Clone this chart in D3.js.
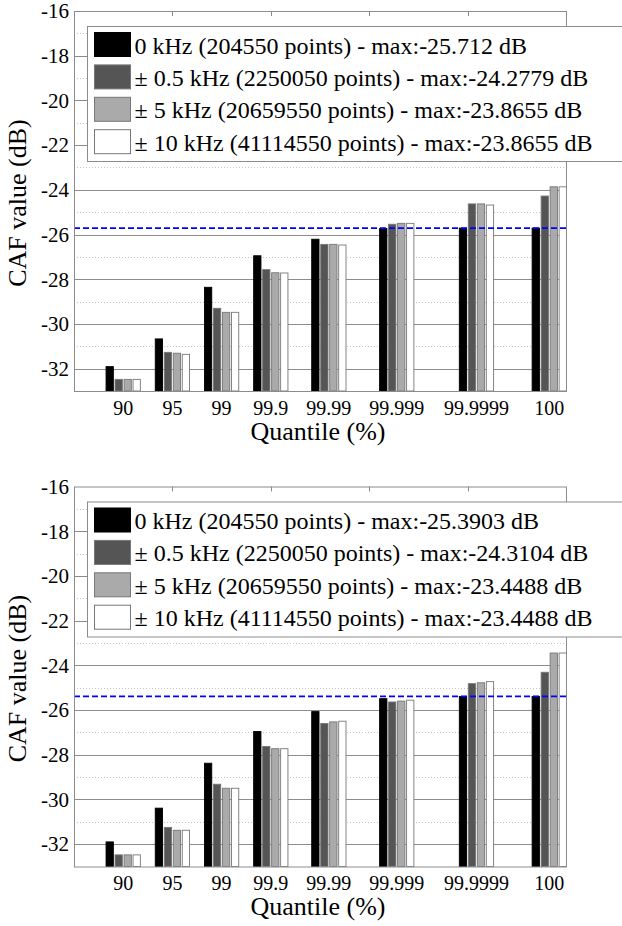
<!DOCTYPE html>
<html>
<head>
<meta charset="utf-8">
<script src="https://cdn.jsdelivr.net/npm/d3@7"></script>
<style>
  html, body { margin: 0; padding: 0; background: #fff; }
  svg { display: block; }
  text { font-family: 'Liberation Serif', 'Times New Roman', Times, 'DejaVu Serif', serif; }
</style>
</head>
<body>
<svg id="chart" width="622" height="926" font-family="Liberation Serif, Times New Roman, Times, DejaVu Serif, serif"></svg>
<script>
// ---------- data ----------
const quantileLabels = ["90", "95", "99", "99.9", "99.99", "99.999", "99.9999", "100"];
// abscissa value of each quantile group on the (linear) x axis
const quantileX = [0.5, 1.0, 1.5, 2.0, 2.59, 3.28, 4.09, 4.83];
const xTicks = [1, 2, 3, 4];
const yTicks = [-16, -18, -20, -22, -24, -26, -28, -30, -32];
const yMinor = [-17, -19, -21, -23, -25, -27, -29, -31];

const seriesNames = ["0 kHz", "± 0.5 kHz", "± 5 kHz", "± 10 kHz"];
const seriesColors = ["#000000", "#555555", "#aaaaaa", "#ffffff"];

// top panel
const top0k   = [-31.91, -30.67, -28.36, -26.95, -26.21, -25.73, -25.712, -25.712];
const top05k  = [-32.48, -31.27, -29.30, -27.57, -26.44, -25.54, -24.63, -24.2779];
const top5k   = [-32.48, -31.31, -29.48, -27.71, -26.44, -25.50, -24.63, -23.8655];
const top10k  = [-32.48, -31.36, -29.48, -27.72, -26.47, -25.50, -24.68, -23.8655];
const topMax = -25.712;
const topLegend = [
  "0 kHz (204550 points) - max:-25.712 dB",
  "± 0.5 kHz (2250050 points) - max:-24.2779 dB",
  "± 5 kHz (20659550 points) - max:-23.8655 dB",
  "± 10 kHz (41114550 points) - max:-23.8655 dB"
];

// bottom panel
const bot0k   = [-31.90, -30.39, -28.38, -26.96, -26.07, -25.49, -25.3903, -25.3903];
const bot05k  = [-32.48, -31.25, -29.32, -27.63, -26.60, -25.64, -24.82, -24.3104];
const bot5k   = [-32.48, -31.38, -29.50, -27.73, -26.53, -25.60, -24.78, -23.4488];
const bot10k  = [-32.48, -31.38, -29.50, -27.73, -26.50, -25.56, -24.73, -23.4488];
const botMax = -25.3903;
const botLegend = [
  "0 kHz (204550 points) - max:-25.3903 dB",
  "± 0.5 kHz (2250050 points) - max:-24.3104 dB",
  "± 5 kHz (20659550 points) - max:-23.4488 dB",
  "± 10 kHz (41114550 points) - max:-23.4488 dB"
];

const yDomain = [-33, -16];
const xDomain = [0, 5];

// ---------- drawing ----------
const FONT = "Liberation Serif, Times New Roman, Times, DejaVu Serif, serif";
const svg = d3.select("#chart");

function drawPanel(offY, series, maxVal, legendLabels) {
  const left = 74, right = 566, top = 11 + offY, bottom = 391 + offY;
  const g = svg.append("g").attr("font-family", FONT);
  const x = d3.scaleLinear().domain(xDomain).range([left, right]);
  const y = d3.scaleLinear().domain(yDomain).range([bottom, top]);

  // minor grid (dotted)
  g.append("g").selectAll("line").data(yMinor).join("line")
    .attr("x1", left).attr("x2", right)
    .attr("y1", d => Math.round(y(d)) + 0.5).attr("y2", d => Math.round(y(d)) + 0.5)
    .attr("stroke", "#c4c4c4").attr("stroke-width", 1)
    .attr("stroke-dasharray", "1,2");
  // major grid
  g.append("g").selectAll("line").data(yTicks.filter(d => d !== -16)).join("line")
    .attr("x1", left).attr("x2", right)
    .attr("y1", d => Math.round(y(d)) + 0.5).attr("y2", d => Math.round(y(d)) + 0.5)
    .attr("stroke", "#8c8c8c").attr("stroke-width", 1);

  // top x ticks
  g.append("g").selectAll("line").data(xTicks).join("line")
    .attr("x1", d => Math.round(x(d)) + 0.5).attr("x2", d => Math.round(x(d)) + 0.5)
    .attr("y1", top).attr("y2", top + 5)
    .attr("stroke", "#8c8c8c");

  // bars
  const barW = 7.3, step = 9;
  const groupW = 3 * step + barW;
  series.forEach((vals, si) => {
    g.append("g").selectAll("rect").data(vals).join("rect")
      .attr("x", (d, i) => x(quantileX[i]) - groupW / 2 + si * step)
      .attr("width", barW)
      .attr("y", d => y(d))
      .attr("height", d => y(yDomain[0]) - y(d))
      .attr("fill", seriesColors[si])
      .attr("stroke", si === 0 ? "#000" : "#777")
      .attr("stroke-width", 0.9);
  });

  // max line
  g.append("line")
    .attr("x1", left).attr("x2", right)
    .attr("y1", y(maxVal)).attr("y2", y(maxVal))
    .attr("stroke", "#0000ff").attr("stroke-width", 1.6)
    .attr("stroke-dasharray", "6,3");

  // box
  g.append("rect")
    .attr("x", left + 0.5).attr("y", top + 0.5)
    .attr("width", right - left).attr("height", bottom - top)
    .attr("fill", "none").attr("stroke", "#8c8c8c").attr("stroke-width", 1);

  // y tick labels
  g.append("g").selectAll("text").data(yTicks).join("text")
    .attr("x", 69).attr("y", d => y(d)).attr("dy", "0.35em")
    .attr("text-anchor", "end").attr("font-size", 21).attr("fill", "#000")
    .attr("font-family", FONT)
    .text(d => d);

  // x tick labels
  g.append("g").selectAll("text").data(quantileLabels).join("text")
    .attr("x", (d, i) => x(quantileX[i])).attr("y", bottom + 23.5)
    .attr("text-anchor", "middle").attr("font-size", 20).attr("fill", "#000")
    .attr("font-family", FONT)
    .text(d => d);

  // axis titles
  g.append("text")
    .attr("x", 318).attr("y", bottom + 48.5)
    .attr("text-anchor", "middle").attr("font-size", 26)
    .attr("font-family", FONT)
    .text("Quantile (%)");
  g.append("text")
    .attr("transform", `translate(26,${(top + bottom) / 2 + 2}) rotate(-90)`)
    .attr("text-anchor", "middle").attr("font-size", 26)
    .attr("font-family", FONT)
    .text("CAF value (dB)");

  // legend
  const lg = g.append("g");
  lg.append("rect")
    .attr("x", 87.5).attr("y", 26.5 + offY)
    .attr("width", 600).attr("height", 135)
    .attr("fill", "#fff").attr("stroke", "#8c8c8c");
  legendLabels.forEach((lab, i) => {
    const ry = 32.5 + offY + i * 32.4;
    lg.append("rect")
      .attr("x", 94.5).attr("y", ry)
      .attr("width", 36).attr("height", 24)
      .attr("fill", seriesColors[i])
      .attr("stroke", i === 0 ? "#000" : "#777");
    lg.append("text")
      .attr("x", 134.5).attr("y", ry + 21)
      .attr("font-size", 24).attr("fill", "#000")
      .attr("font-family", FONT)
      .text(lab);
  });
}

drawPanel(0, [top0k, top05k, top5k, top10k], topMax, topLegend);
drawPanel(475.5, [bot0k, bot05k, bot5k, bot10k], botMax, botLegend);
</script>
</body>
</html>
